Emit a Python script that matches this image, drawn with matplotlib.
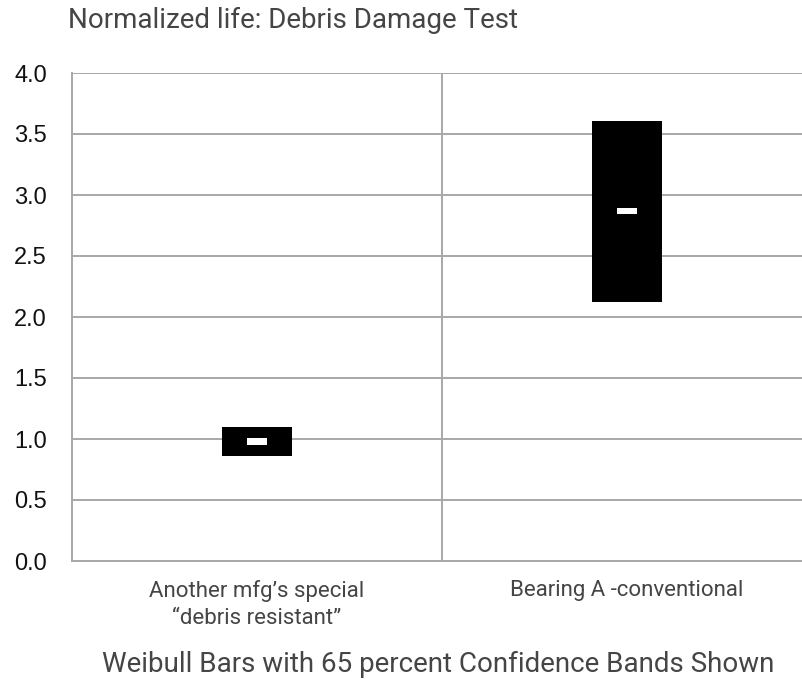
import matplotlib
matplotlib.use("Agg")
import matplotlib.pyplot as plt

# Weibull life results, normalized
categories = ["Another mfg\u2019s special\n\u201cdebris resistant\u201d", "Bearing A -conventional"]
band_low = [0.86, 2.12]
band_high = [1.10, 3.61]
life_mid = [0.98, 2.87]
y_ticks = [0.0, 0.5, 1.0, 1.5, 2.0, 2.5, 3.0, 3.5, 4.0]

W, H = 803, 679
fig = plt.figure(figsize=(W / 100, H / 100), dpi=100)
ax = fig.add_axes([72 / W, (H - 561) / H, (812 - 72) / W, 488 / H])

grid_col = "#a8a8a8"
text_col = "#454545"

x = [0.5, 1.5]
heights = [hi - lo for lo, hi in zip(band_low, band_high)]
ax.bar(x, heights, bottom=band_low, width=0.19, color="black", zorder=3)
# small white tick for the median life
mark_h = 0.055
ax.bar(x, [mark_h] * 2, bottom=[m - mark_h / 2 for m in life_mid], width=0.054,
       color="white", zorder=4)

ax.set_xlim(0, 2)
ax.set_ylim(0, 4)
ax.set_yticks(y_ticks)
ax.set_yticklabels([f"{v:.1f}" for v in y_ticks], fontsize=17,
                   family="Liberation Sans", color="#111111")
ax.set_xticks(x)
ax.set_xticklabels(categories, fontsize=16, family="Roboto", color=text_col,
                   linespacing=1.35)
ax.set_xticks([1.0], minor=True)

ax.grid(axis="y", color=grid_col, lw=1.4, zorder=0)
ax.grid(axis="x", which="minor", color=grid_col, lw=1.4, zorder=0)
ax.tick_params(axis="both", which="both", length=0)
ax.tick_params(axis="y", pad=18)
ax.tick_params(axis="x", pad=14)

for side in ["top", "right"]:
    ax.spines[side].set_visible(False)
for side in ["left", "bottom"]:
    ax.spines[side].set_color(grid_col)
    ax.spines[side].set_linewidth(1.4)

fig.text(68 / W, 1 - 20 / H, "Normalized life: Debris Damage Test", fontsize=20,
         family="Roboto", color=text_col, ha="left", va="center")
fig.text(438 / W, 1 - 664 / H, "Weibull Bars with 65 percent Confidence Bands Shown",
         fontsize=20, family="Roboto", color=text_col, ha="center", va="center")

fig.savefig("out.png", dpi=100)
